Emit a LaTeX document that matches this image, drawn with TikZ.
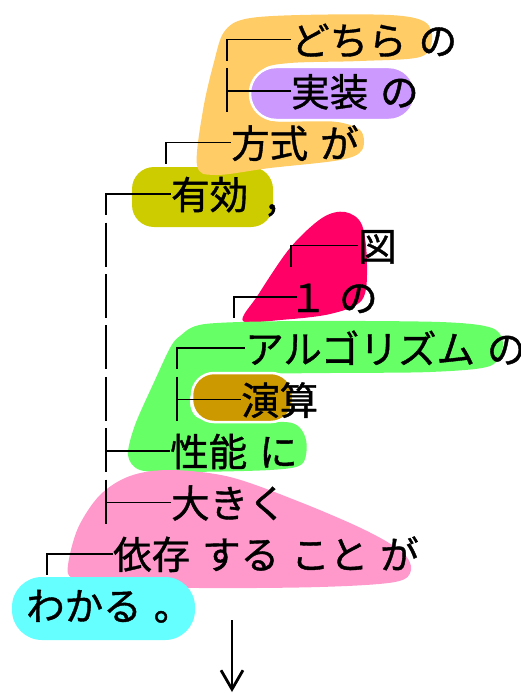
\documentclass[tikz,border=0pt]{standalone}
\usepackage{fontspec}
\newfontfamily\jpfont[FakeBold=1]{Noto Sans CJK JP}
\usetikzlibrary{arrows.meta}

\definecolor{kuOrange}{RGB}{255,204,102}
\definecolor{kuPurple}{RGB}{204,153,255}
\definecolor{kuOlive}{RGB}{204,204,0}
\definecolor{kuCrimson}{RGB}{255,0,102}
\definecolor{kuGreen}{RGB}{102,255,102}
\definecolor{kuGold}{RGB}{204,153,0}
\definecolor{kuPink}{RGB}{255,153,204}
\definecolor{kuCyan}{RGB}{102,255,255}

\begin{document}
\begin{tikzpicture}[x=1pt,y=-1pt]
\tikzset{bunsetsu/.style={anchor=base west, inner sep=0pt, text height=34.5pt, text depth=4pt,
  font={\jpfont\fontsize{38.5}{46}\selectfont\fontdimen2\font=12pt\relax}}}
\tikzset{kakari/.style={line width=1.5pt}}
\tikzset{kumo/.style={draw=white, line width=2.5pt}}
\useasboundingbox (0,0) rectangle (521,693);
% blobs
\fill[kuOlive, rounded corners=22pt] (132,167) rectangle (273,227);
\fill[kuOrange] plot[smooth cycle, tension=0.55] coordinates {(224,32) (245,19) (300,15) (390,15) (425,22) (432,40) (420,57) (360,61) (290,63) (262,70) (256,95) (268,120) (330,121) (360,130) (362,150) (340,160) (270,168) (215,175) (197,165) (203,110) (214,62)};
\path[kumo, fill=kuPurple, rounded corners=26pt] (250,67) rectangle (415,120);
\fill[kuCrimson] plot[smooth cycle, tension=0.55] coordinates {(243,321) (258,295) (290,248) (322,218) (345,212) (362,225) (367,265) (362,300) (330,314) (280,320)};
\fill[kuGreen] plot[smooth cycle, tension=0.5] coordinates {(180,336) (205,324) (300,321) (440,322) (492,328) (503,345) (490,366) (430,372) (330,373) (255,374) (205,378) (190,398) (198,418) (240,422) (292,423) (306,440) (302,464) (270,470) (180,472) (140,470) (128,455) (135,425) (155,380) (170,348)};
\path[kumo, fill=kuGold, rounded corners=22pt] (192,373) rectangle (293,422);
\fill[kuPink] plot[smooth cycle, tension=0.55] coordinates {(68,565) (78,528) (100,495) (130,476) (170,470) (230,477) (300,502) (365,530) (402,552) (411,570) (395,582) (320,587) (200,588) (100,585) (72,578)};
\fill[kuCyan, rounded corners=30pt] (12,577) rectangle (195,640);
% words
\node[bunsetsu] (dochira) at (291,55) {どちら の};
\node[bunsetsu] (jisso) at (291,106.4) {実装 の};
\node[bunsetsu] (hoshiki) at (231,157.8) {方式 が};
\node[bunsetsu] (yuko) at (171,209.2) {有効 \,,};
\node[bunsetsu] (zu) at (358,260.6) {図};
\node[bunsetsu] (ichi) at (288.5,312) {１ の};
\node[bunsetsu] (algo) at (245,363.4) {アルゴリズム の};
\node[bunsetsu] (enzan) at (241,414.8) {演算};
\node[bunsetsu] (seino) at (170,466.2) {性能 に};
\node[bunsetsu] (okiku) at (171,517.6) {大きく};
\node[bunsetsu] (izon) at (113,569) {依存 する こと が};
\node[bunsetsu] (wakaru) at (26,620.4) {わかる 。};
% tree lines
\coordinate (k0) at (227,61);
\coordinate (k1a) at (227,68.4);
\coordinate (k1b) at (227,112.4);
\coordinate (k2) at (166,163.8);
\coordinate (k3) at (106,215.2);
\coordinate (k4) at (291,266.6);
\coordinate (v4a) at (106,222.6);
\coordinate (v4b) at (106,266.6);
\coordinate (k5) at (234,318);
\coordinate (v5a) at (106,274);
\coordinate (v5b) at (106,318);
\coordinate (k6) at (177,369.4);
\coordinate (v6a) at (106,325.4);
\coordinate (v6b) at (106,369.4);
\coordinate (k7a) at (177,376.8);
\coordinate (k7b) at (177,420.8);
\coordinate (v7a) at (106,376.8);
\coordinate (v7b) at (106,420.8);
\coordinate (k8a) at (106,428.2);
\coordinate (k8b) at (106,472.2);
\coordinate (k9a) at (106,479.6);
\coordinate (k9b) at (106,523.6);
\coordinate (k10) at (47,575);
\draw[kakari] (dochira.west) -| (k0);
\draw[kakari] (jisso.west) -- (jisso.west -| k1a);
\draw[kakari] (k1a) -- (k1b);
\draw[kakari] (hoshiki.west) -| (k2);
\draw[kakari] (yuko.west) -| (k3);
\draw[kakari] (zu.west) -| (k4);
\draw[kakari] (v4a) -- (v4b);
\draw[kakari, shorten <=-8.5pt] (ichi.west) -| (k5);
\draw[kakari] (v5a) -- (v5b);
\draw[kakari] (algo.west) -| (k6);
\draw[kakari] (v6a) -- (v6b);
\draw[kakari] (enzan.west) -- (enzan.west -| k7a);
\draw[kakari] (k7a) -- (k7b);
\draw[kakari] (v7a) -- (v7b);
\draw[kakari] (seino.west) -- (seino.west -| k8a);
\draw[kakari] (k8a) -- (k8b);
\draw[kakari] (okiku.west) -- (okiku.west -| k9a);
\draw[kakari] (k9a) -- (k9b);
\draw[kakari] (izon.west) -| (k10);
% arrow
\coordinate (ya0) at (232,620);
\coordinate (ya1) at (232,692);
\draw[line width=2.8pt, -{Straight Barb[length=19pt,width=22pt]}] (ya0) -- (ya1);
\end{tikzpicture}
\end{document}
